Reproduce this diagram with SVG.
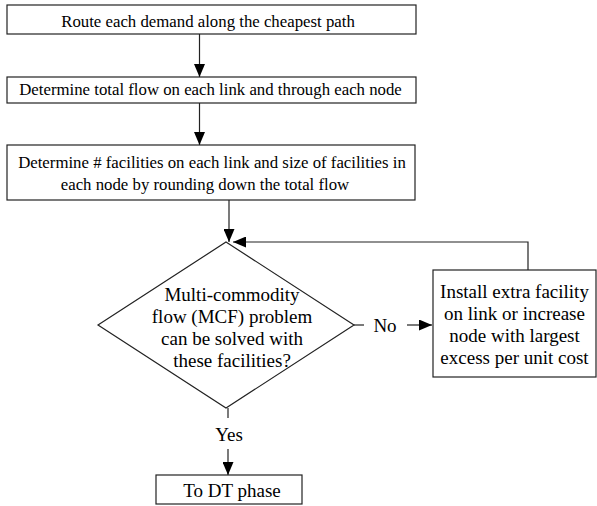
<svg xmlns="http://www.w3.org/2000/svg" width="597" height="506" viewBox="0 0 597 506">
<style>
.box{fill:#fff;stroke:#222;stroke-width:1.2}
.t17{font-family:"Liberation Serif","Times New Roman",serif;font-size:16.8px;fill:#000;text-anchor:middle}
.t19{font-family:"Liberation Serif","Times New Roman",serif;font-size:19px;fill:#000;text-anchor:middle}
.ln{fill:none;stroke:#222;stroke-width:1.2}
</style>
<defs>
<marker id="arr" viewBox="0 0 13 11" refX="13" refY="5.5" markerWidth="13" markerHeight="11" markerUnits="userSpaceOnUse" orient="auto">
<path d="M0,0 L13,5.5 L0,11 Z" fill="#000"/>
</marker>
</defs>
<rect x="0" y="0" width="597" height="506" fill="#fff"/>
<g id="connectors">
<path class="ln" d="M199.5 34 V77" marker-end="url(#arr)"/>
<path class="ln" d="M199.5 103 V145" marker-end="url(#arr)"/>
<path class="ln" d="M229 200 V242" marker-end="url(#arr)"/>
<path class="ln" d="M528 270 V242 H233" marker-end="url(#arr)"/>
<path class="ln" d="M354 325 H364"/>
<text class="t19" x="385" y="332">No</text>
<path class="ln" d="M407 325 H432" marker-end="url(#arr)"/>
<path class="ln" d="M228 408 V418"/>
<text class="t19" x="229" y="441">Yes</text>
<path class="ln" d="M228 449 V475" marker-end="url(#arr)"/>
</g>
<g id="route">
<rect class="box" x="7" y="5" width="409" height="29"/>
<text class="t17" x="208" y="27">Route each demand along the cheapest path</text>
</g>
<g id="total-flow">
<rect class="box" x="7" y="77" width="409" height="26"/>
<text class="t17" x="210.5" y="95">Determine total flow on each link and through each node</text>
</g>
<g id="facilities">
<rect class="box" x="7" y="145" width="408" height="55"/>
<text class="t17" x="212" y="168">Determine # facilities on each link and size of facilities in</text>
<text class="t17" x="205" y="190">each node by rounding down the total flow</text>
</g>
<g id="mcf-decision">
<polygon class="box" points="226,242 354,325 226,408 98,325"/>
<text class="t19" x="232" y="301">Multi-commodity</text>
<text class="t19" x="232" y="323">flow (MCF) problem</text>
<text class="t19" x="232" y="345">can be solved with</text>
<text class="t19" x="232" y="367">these facilities?</text>
</g>
<g id="install-extra">
<rect class="box" x="433" y="270" width="163" height="107"/>
<text class="t19" x="514.5" y="298">Install extra facility</text>
<text class="t19" x="514.5" y="320">on link or increase</text>
<text class="t19" x="514.5" y="342">node with largest</text>
<text class="t19" x="514.5" y="364">excess per unit cost</text>
</g>
<g id="dt-phase">
<rect class="box" x="156" y="475" width="146" height="29"/>
<text class="t19" x="232" y="497">To DT phase</text>
</g>
</svg>
